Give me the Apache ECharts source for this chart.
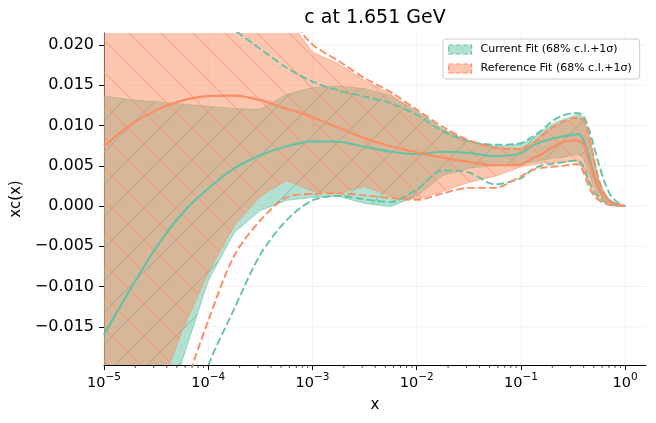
<!DOCTYPE html>
<html><head><meta charset="utf-8">
<script src="https://cdn.jsdelivr.net/npm/echarts@6/dist/echarts.min.js"></script>
<style>html,body{margin:0;padding:0;background:#fff}#c{width:656px;height:423px}</style>
</head><body><div id="c"></div>
<script>
const xValues = [1e-5, 1.778e-5, 3.162e-5, 5.623e-5, 1e-4, 1.778e-4, 3.162e-4, 5.623e-4, 1e-3, 1.778e-3, 3.162e-3, 5.623e-3, 0.01, 0.01778, 0.03162, 0.05623, 0.1, 0.1259, 0.1585, 0.1995, 0.2512, 0.3162, 0.3548, 0.3981, 0.4467, 0.5012, 0.5623, 0.6310, 0.7079, 0.7943, 0.8913, 1.0];

const currentCentral = [-0.01599, -0.01039, -0.00516, -0.00092, 0.00219, 0.00468, 0.00630, 0.00742, 0.00804, 0.00798, 0.00736, 0.00674, 0.00643, 0.00674, 0.00661, 0.00618, 0.00655, 0.00742, 0.00798, 0.00836, 0.00867, 0.00885, 0.00892, 0.00817, 0.00630, 0.00394, 0.00219, 0.00120, 0.00064, 0.00032, 0.00010, 0];
const currentBandLow = [-0.05, -0.04, -0.029, -0.01923, -0.00927, -0.00329, -0.00055, 0.00070, 0.00107, 0.00120, 0.00032, -0.00005, 0.00120, 0.00381, 0.00468, 0.00506, 0.00531, 0.00543, 0.00568, 0.00593, 0.00605, 0.00630, 0.00643, 0.00593, 0.00418, 0.00244, 0.00132, 0.00070, 0.00032, 0.00014, 0.00004, 0];
const currentBandHigh = [0.01365, 0.01321, 0.01296, 0.01265, 0.01240, 0.01209, 0.01203, 0.01384, 0.01471, 0.01489, 0.01458, 0.01371, 0.01184, 0.00960, 0.00804, 0.00742, 0.00767, 0.00829, 0.00929, 0.01016, 0.01072, 0.01116, 0.01134, 0.01103, 0.00917, 0.00593, 0.00319, 0.00169, 0.00082, 0.00039, 0.00014, 0];
const currentSigmaHigh = [0.036, 0.033, 0.030, 0.027, 0.0242, 0.02187, 0.01950, 0.01720, 0.01545, 0.01433, 0.01359, 0.01278, 0.01134, 0.00929, 0.00804, 0.00761, 0.00780, 0.00854, 0.00941, 0.01054, 0.01122, 0.01153, 0.01153, 0.01116, 0.00966, 0.00742, 0.00506, 0.00306, 0.00157, 0.00076, 0.00026, 0];
const currentSigmaLow = [-0.07, -0.055, -0.042, -0.030, -0.01985, -0.01275, -0.00603, -0.00179, 0.00070, 0.00126, 0.00082, 0.00051, 0.00207, 0.00443, 0.00418, 0.00269, 0.00344, 0.00443, 0.00506, 0.00524, 0.00543, 0.00562, 0.00562, 0.00493, 0.00319, 0.00182, 0.00107, 0.00057, 0.00026, 0.00007, 0.00001, 0];

const referenceCentral = [0.00742, 0.01004, 0.01191, 0.01309, 0.01365, 0.01371, 0.01315, 0.01209, 0.01103, 0.00973, 0.00842, 0.00742, 0.00667, 0.00599, 0.00549, 0.00506, 0.00512, 0.00587, 0.00643, 0.00730, 0.00792, 0.00817, 0.00811, 0.00773, 0.00568, 0.00369, 0.00207, 0.00107, 0.00057, 0.00026, 0.00007, 0];
const referenceBandLow = [-0.045, -0.035, -0.02421, -0.01549, -0.00827, -0.00242, 0.00120, 0.00319, 0.00182, 0.00157, 0.00244, 0.00120, 0.00082, 0.00182, 0.00294, 0.00369, 0.00487, 0.00512, 0.00531, 0.00537, 0.00543, 0.00555, 0.00555, 0.00443, 0.00281, 0.00157, 0.00088, 0.00045, 0.00020, 0.00007, 0.00001, 0];
const referenceBandHigh = [0.040, 0.038, 0.036, 0.034, 0.032, 0.029, 0.026, 0.0235, 0.01913, 0.01763, 0.01558, 0.01390, 0.01166, 0.00948, 0.00792, 0.00730, 0.00717, 0.00780, 0.00892, 0.00991, 0.01041, 0.01078, 0.01091, 0.01054, 0.00854, 0.00543, 0.00294, 0.00144, 0.00070, 0.00032, 0.00007, 0];
const referenceSigmaHigh = [0.038, 0.036, 0.034, 0.032, 0.030, 0.028, 0.026, 0.0237, 0.02006, 0.01801, 0.01589, 0.01415, 0.01197, 0.00985, 0.00817, 0.00724, 0.00705, 0.00755, 0.00867, 0.00973, 0.01047, 0.01091, 0.01097, 0.01066, 0.00892, 0.00593, 0.00319, 0.00157, 0.00076, 0.00032, 0.00007, 0];
const referenceSigmaLow = [-0.06, -0.046, -0.034, -0.0236, -0.01425, -0.00615, -0.00179, 0.00107, 0.00151, 0.00157, 0.00132, 0.00101, 0.00076, 0.00157, 0.00225, 0.00225, 0.00369, 0.00443, 0.00474, 0.00487, 0.00499, 0.00518, 0.00518, 0.00418, 0.00244, 0.00132, 0.00070, 0.00032, 0.00014, 0.00005, 0.00001, 0];

const xTickValues = [1e-5, 1e-4, 1e-3, 1e-2, 1e-1, 1];
const xMinorMultipliers = [2, 3, 4, 5, 6, 7, 8, 9];
const yTickValues = [-0.015, -0.010, -0.005, 0, 0.005, 0.010, 0.015, 0.020];

const titleText = 'c at 1.651 GeV';
const currentName = 'Current Fit (68% c.l.+1σ)';
const referenceName = 'Reference Fit (68% c.l.+1σ)';

const GREEN = '#66c2a5', ORANGE = '#fc8d62';
const FONT = 'DejaVu Sans';

const xMinorTickValues = [];
xTickValues.slice(0, -1).forEach(d => xMinorMultipliers.forEach(m => xMinorTickValues.push(d * m)));

function hatchPattern(rgb, dir, lineAlpha) {
  const s = 32;
  const c = document.createElement('canvas'); c.width = s; c.height = s;
  const ctx = c.getContext('2d');
  ctx.fillStyle = 'rgba(' + rgb + ',0.5)'; ctx.fillRect(0, 0, s, s);
  ctx.strokeStyle = 'rgba(' + rgb + ',' + lineAlpha + ')'; ctx.lineWidth = 1.1;
  ctx.beginPath();
  for (let k = -1; k <= 1; k++) {
    if (dir === 'back') { ctx.moveTo(k * s - 2, -2); ctx.lineTo(k * s + s + 2, s + 2); }
    else { ctx.moveTo(k * s - 2, s + 2); ctx.lineTo(k * s + s + 2, -2); }
  }
  ctx.stroke();
  return { image: c, repeat: 'repeat' };
}

function bandSeries(name, lo, hi, pattern, stroke, z) {
  return {
    type: 'custom', name: name, coordinateSystem: 'cartesian2d', clip: true, z: z, silent: true,
    data: xValues.map((x, i) => [x, lo[i], hi[i]]),
    encode: { x: 0, y: [1, 2] },
    renderItem: function (params, api) {
      if (params.dataIndex !== 0) return null;
      const pts = [];
      for (let i = 0; i < xValues.length; i++) pts.push(api.coord([xValues[i], hi[i]]));
      for (let i = xValues.length - 1; i >= 0; i--) pts.push(api.coord([xValues[i], lo[i]]));
      return { type: 'polygon', shape: { points: pts }, style: { fill: pattern, stroke: stroke, lineWidth: 1 } };
    }
  };
}

function lineSeries(name, ys, color, dashed, z) {
  return {
    type: 'line', name: name, data: xValues.map((x, i) => [x, ys[i]]),
    showSymbol: false, symbol: 'none', smooth: 0.3, z: z, silent: true, clip: true,
    lineStyle: { color: color, width: dashed ? 1.9 : 2.2, type: dashed ? [7.7, 3.3] : 'solid' },
    itemStyle: { color: color }
  };
}

const gridSeries = {
  type: 'custom', coordinateSystem: 'cartesian2d', silent: true, z: 0, clip: false,
  data: [[xTickValues[0], 0]],
  renderItem: function (params, api) {
    const cs = params.coordSys; const children = [];
    yTickValues.forEach(v => { const p = api.coord([xTickValues[0], v]);
      children.push({ type: 'line', shape: { x1: cs.x, y1: p[1], x2: cs.x + cs.width, y2: p[1] }, style: { stroke: '#f1f1f1', lineWidth: 1 } }); });
    xTickValues.forEach(v => { const p = api.coord([v, 0]);
      children.push({ type: 'line', shape: { x1: p[0], y1: cs.y, x2: p[0], y2: cs.y + cs.height }, style: { stroke: '#f1f1f1', lineWidth: 1 } }); });
    const yb = cs.y + cs.height;
    xMinorTickValues.forEach(v => { const p = api.coord([v, 0]);
      children.push({ type: 'line', shape: { x1: p[0], y1: yb, x2: p[0], y2: yb + 2.8 }, style: { stroke: '#000', lineWidth: 0.8 } }); });
    return { type: 'group', children: children };
  }
};

const chart = echarts.init(document.getElementById('c'));
chart.setOption({
  animation: false,
  backgroundColor: '#fff',
  title: { text: titleText, left: 375, top: 9, textAlign: 'center', padding: 0,
    textStyle: { fontSize: 19, fontWeight: 'normal', color: '#000', fontFamily: FONT } },
  grid: { left: 104, right: 10, top: 33, bottom: 58, containLabel: false },
  legend: {
    left: 443, top: 39, orient: 'vertical', padding: [5, 8, 5, 5], itemGap: 8, itemWidth: 23, itemHeight: 9,
    backgroundColor: 'rgba(255,255,255,0.8)', borderColor: '#cccccc', borderWidth: 1, borderRadius: 3,
    selectedMode: false,
    textStyle: { fontSize: 11, fontFamily: FONT, color: '#000', padding: [0, 0, 0, 4] },
    data: [
      { name: currentName, icon: 'rect', itemStyle: { color: 'rgba(102,194,165,0.5)', borderColor: GREEN, borderWidth: 1.2, borderType: 'dashed' } },
      { name: referenceName, icon: 'rect', itemStyle: { color: 'rgba(252,141,98,0.5)', borderColor: ORANGE, borderWidth: 1.2, borderType: 'dashed' } }
    ]
  },
  xAxis: {
    type: 'log', logBase: 10, min: 1e-5, max: 1.585,
    axisLine: { show: true, onZero: false, lineStyle: { color: '#000', width: 1 } },
    axisTick: { show: true, length: 5, customValues: xTickValues, lineStyle: { color: '#000', width: 1 } },
    axisLabel: {
      customValues: xTickValues, margin: 7,
      formatter: function (v) { const e = Math.round(Math.log10(v)); return '{b|10}{s|' + (e < 0 ? '\u2212' : '') + Math.abs(e) + '}'; },
      rich: { b: { fontSize: 14.5, lineHeight: 22, fontFamily: FONT, color: '#000' },
              s: { fontSize: 10.5, verticalAlign: 'top', fontFamily: FONT, color: '#000' } }
    },
    splitLine: { show: false }, minorTick: { show: false },
    name: 'x', nameLocation: 'middle', nameGap: 33,
    nameTextStyle: { fontSize: 15, color: '#000', fontFamily: FONT }
  },
  yAxis: {
    type: 'value', min: -0.01975, max: 0.02149, splitNumber: 8, minInterval: 0.005, maxInterval: 0.005,
    axisLine: { show: true, onZero: false, lineStyle: { color: '#000', width: 1 } },
    axisTick: { show: true, length: 5, customValues: yTickValues, lineStyle: { color: '#000', width: 1 } },
    axisLabel: { customValues: yTickValues, margin: 10, fontSize: 16, color: '#000', fontFamily: FONT,
      formatter: function (v) { return (v < -1e-12 ? '\u2212' : '') + Math.abs(v).toFixed(3); } },
    splitLine: { show: false },
    name: 'xc(x)', nameLocation: 'middle', nameRotate: 90, nameGap: 78,
    nameTextStyle: { fontSize: 15, color: '#000', fontFamily: FONT }
  },
  series: [
    gridSeries,
    bandSeries(currentName, currentBandLow, currentBandHigh, hatchPattern('102,194,165', 'fwd', 0.7), 'rgba(102,194,165,0.6)', 1),
    bandSeries(referenceName, referenceBandLow, referenceBandHigh, hatchPattern('252,141,98', 'back', 0.55), 'rgba(252,141,98,0.6)', 2),
    lineSeries('current central', currentCentral, GREEN, false, 3),
    lineSeries('reference central', referenceCentral, ORANGE, false, 3),
    lineSeries('current +1σ', currentSigmaHigh, GREEN, true, 4),
    lineSeries('current −1σ', currentSigmaLow, GREEN, true, 4),
    lineSeries('reference +1σ', referenceSigmaHigh, ORANGE, true, 4),
    lineSeries('reference −1σ', referenceSigmaLow, ORANGE, true, 4)
  ]
});
</script></body></html>
